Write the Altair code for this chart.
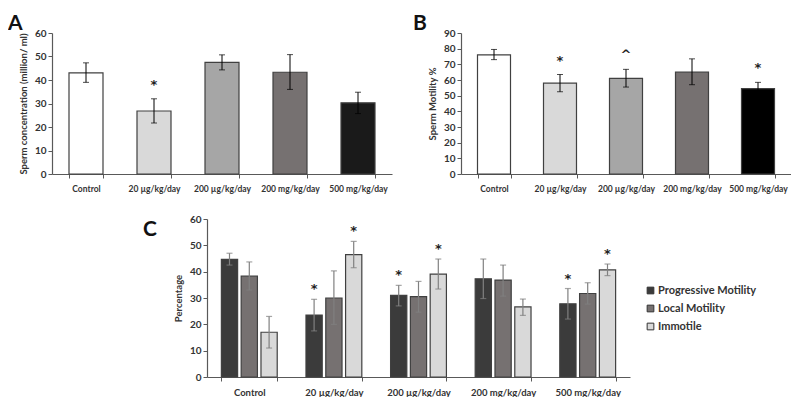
import altair as alt
import pandas as pd

categories = ["Control", "20 µg/kg/day", "200 µg/kg/day", "200 mg/kg/day", "500 mg/kg/day"]

# Panel A: sperm concentration
conc = [43.0, 26.8, 47.5, 43.3, 30.3]
conc_lo = [39.0, 21.7, 44.3, 36.0, 25.7]
conc_hi = [47.3, 32.0, 50.7, 50.8, 34.8]
conc_mark = ["", "*", "", "", ""]

# Panel B: sperm motility
mot = [76.0, 58.0, 61.0, 65.0, 54.5]
mot_lo = [73.0, 52.5, 55.5, 57.0, 50.5]
mot_hi = [79.5, 63.5, 66.8, 73.5, 58.5]
mot_mark = ["", "*", "^", "", "*"]

# Panel C: motility categories
series = ["Progressive Motility", "Local Motility", "Immotile"]
prog = [44.7, 23.5, 31.0, 37.3, 27.8]
prog_lo = [42.5, 17.5, 27.0, 29.8, 22.0]
prog_hi = [47.0, 29.5, 34.8, 44.8, 33.6]
prog_mark = ["", "*", "*", "", "*"]
local = [38.3, 30.0, 30.5, 36.8, 31.7]
local_lo = [33.0, 20.0, 24.6, 30.7, 27.7]
local_hi = [43.7, 40.3, 36.3, 42.5, 35.8]
local_mark = ["", "", "", "", ""]
imm = [17.0, 46.5, 39.1, 26.6, 40.7]
imm_lo = [11.0, 41.5, 33.4, 23.4, 38.5]
imm_hi = [23.0, 51.5, 44.8, 29.6, 42.9]
imm_mark = ["", "*", "*", "", "*"]

colors_a = ["#ffffff", "#d9d9d9", "#a6a6a6", "#767171", "#1a1a1a"]
colors_b = ["#ffffff", "#d9d9d9", "#a6a6a6", "#767171", "#000000"]
colors_c = ["#3b3b3b", "#767171", "#d9d9d9"]

FONT = "Lato"
STAR_FONT = "DejaVu Sans"
TXT = "#333333"


def x_axis(size):
    return alt.Axis(labelAngle=0, tickBand="extent", labelPadding=6, title=None,
                    labelFontSize=size, labelOverlap=False)


def y_enc(field, ymax, title):
    return alt.Y(field, type="quantitative", scale=alt.Scale(domain=[0, ymax], nice=False),
                 axis=alt.Axis(values=list(range(0, ymax + 1, 10)), title=title, grid=False,
                               labelOverlap=False, labelFlush=False, titlePadding=6,
                               titleFontSize=9.5))


def bar_panel(values, lo, hi, marks, colors, ytitle, ymax, label, label_dx, width, height):
    df = pd.DataFrame({"cat": categories, "v": values, "lo": lo, "hi": hi, "m": marks})
    base = alt.Chart(df)
    x = alt.X("cat:N", sort=categories, scale=alt.Scale(paddingInner=0.5, paddingOuter=0.25), axis=x_axis(8.5))
    bars = base.mark_bar(stroke="#404040", strokeWidth=1.2).encode(
        x=x, y=y_enc("v", ymax, ytitle),
        fill=alt.Fill("cat:N", sort=categories, scale=alt.Scale(domain=categories, range=colors), legend=None))
    rules = base.mark_rule(color="black", strokeWidth=1).encode(
        x=x, y=y_enc("lo", ymax, ytitle), y2="hi:Q")
    cap_lo = base.mark_tick(color="black", size=6, thickness=1).encode(x=x, y=y_enc("lo", ymax, ytitle))
    cap_hi = base.mark_tick(color="black", size=6, thickness=1).encode(x=x, y=y_enc("hi", ymax, ytitle))
    stars = base.mark_text(dy=-14, fontSize=13, fontWeight="bold", font=STAR_FONT, baseline="middle",
                           fill="#222222").encode(x=x, y=y_enc("hi", ymax, ytitle), text="m:N")
    lab = alt.Chart(pd.DataFrame({"t": [label]})).mark_text(
        fontSize=21, fontWeight="bold", font=FONT, align="left", baseline="top", fill="#111111").encode(
        x=alt.value(label_dx), y=alt.value(-20), text="t:N")
    return alt.layer(bars, rules, cap_lo, cap_hi, stars, lab).properties(width=width, height=height)


A = bar_panel(conc, conc_lo, conc_hi, conc_mark, colors_a, "Sperm concentration (million/ ml)", 60, "A", -44, 340, 141)
B = bar_panel(mot, mot_lo, mot_hi, mot_mark, colors_b, "Sperm Motility %", 90, "B", -48, 330, 141)

rows = []
for s, vals, los, his, mks in [
    (series[0], prog, prog_lo, prog_hi, prog_mark),
    (series[1], local, local_lo, local_hi, local_mark),
    (series[2], imm, imm_lo, imm_hi, imm_mark),
]:
    for c, v, l, h, m in zip(categories, vals, los, his, mks):
        rows.append({"cat": c, "series": s, "v": v, "lo": l, "hi": h, "m": m})
dfc = pd.DataFrame(rows)
basec = alt.Chart(dfc)
xc = alt.X("cat:N", sort=categories, scale=alt.Scale(paddingInner=0.34, paddingOuter=0.17), axis=x_axis(9.5))
xo = alt.XOffset("series:N", sort=series, scale=alt.Scale(domain=series, paddingInner=0.18, paddingOuter=0))
barsc = basec.mark_bar(stroke="#404040", strokeWidth=1.2).encode(
    x=xc, xOffset=xo, y=y_enc("v", 60, "Percentage"),
    fill=alt.Fill("series:N", sort=series, scale=alt.Scale(domain=series, range=colors_c),
                  legend=alt.Legend(title=None, orient="none", legendX=438, legendY=66,
                                    symbolType="square", symbolSize=45, symbolStrokeColor="#333",
                                    symbolStrokeWidth=1, labelFont=FONT, labelFontSize=11,
                                    labelFontWeight="bold", labelColor=TXT, rowPadding=6,
                                    labelOffset=2)))
rulesc = basec.mark_rule(color="#808080", strokeWidth=1.2).encode(
    x=xc, xOffset=xo, y=y_enc("lo", 60, "Percentage"), y2="hi:Q")
caplc = basec.mark_tick(color="#808080", size=6, thickness=1.2).encode(
    x=xc, xOffset=xo, y=y_enc("lo", 60, "Percentage"))
caphc = basec.mark_tick(color="#808080", size=6, thickness=1.2).encode(
    x=xc, xOffset=xo, y=y_enc("hi", 60, "Percentage"))
starsc = basec.mark_text(dy=-10, fontSize=13, fontWeight="bold", font=STAR_FONT, baseline="middle",
                         fill="#222222").encode(x=xc, xOffset=xo, y=y_enc("hi", 60, "Percentage"), text="m:N")
labc = alt.Chart(pd.DataFrame({"t": ["C"]})).mark_text(
    fontSize=21, fontWeight="bold", font=FONT, align="left", baseline="top", fill="#111111").encode(
    x=alt.value(-64), y=alt.value(0), text="t:N")
C = alt.layer(barsc, rulesc, caplc, caphc, starsc, labc).properties(width=423, height=158)

# empty cell that reserves the blank space left of panel C
spacer = alt.Chart(pd.DataFrame({"a": [0]})).mark_text(text="").encode(
    x=alt.value(0), y=alt.value(0)).properties(width=91, height=10)

top = alt.hconcat(A, B, spacing=21).resolve_scale(fill="independent")
bottom = alt.hconcat(spacer, C, spacing=0).resolve_scale(fill="independent")
chart = alt.vconcat(top, bottom, spacing=20).resolve_scale(fill="independent").properties(
    padding={"left": 0, "top": 5, "right": 0, "bottom": 0}
).configure_view(stroke=None).configure_axis(
    labelFont=FONT, titleFont=FONT, labelFontWeight="bold", titleFontWeight="bold",
    labelFontSize=10, titleFontSize=10, labelColor=TXT, titleColor=TXT,
    domainColor="#595959", tickColor="#595959", tickSize=4, domainWidth=1.2
)

chart.save("out.html", embed_options={"renderer": "svg", "actions": False})
